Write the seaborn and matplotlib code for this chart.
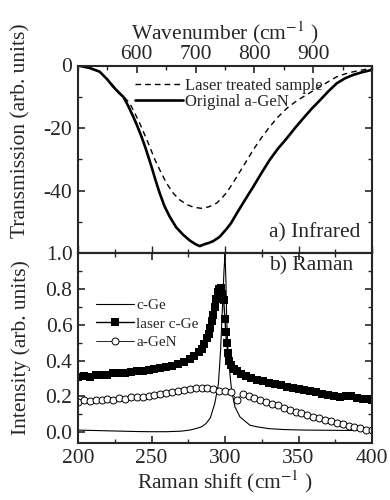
import numpy as np
import pandas as pd
import matplotlib
matplotlib.use("Agg")
import matplotlib.pyplot as plt
import seaborn as sns
from matplotlib.ticker import MultipleLocator, FormatStrFormatter

# --- a) Infrared -----------------------------------------------------------
ir_wn_orig = [500, 520, 537, 550, 560, 570, 577, 585, 594, 600, 608, 615, 625, 632, 639, 647,
              656, 667, 679, 690, 700, 707, 715, 722, 730, 741, 753, 760, 770, 784, 798, 812,
              826, 840, 855, 869, 883, 897, 912, 926, 940, 954, 968, 984, 1000]
ir_orig = [0.0, -0.8, -2.0, -4.5, -6.8, -8.8, -10.0, -12.8, -16.4, -19.0, -22.8, -26.5, -32.4,
           -36.8, -40.9, -45.0, -48.4, -51.8, -54.2, -56.0, -57.2, -57.8, -57.2, -56.8, -56.2,
           -54.8, -52.2, -50.5, -47.3, -43.0, -38.8, -34.4, -30.2, -26.6, -23.3, -20.0, -16.9,
           -13.9, -11.0, -8.2, -5.7, -4.1, -3.0, -2.1, -1.4]

ir_wn_laser = [500, 520, 537, 550, 560, 570, 577, 588, 596, 605, 613, 622, 630, 639, 650, 662,
               673, 685, 697, 710, 723, 736, 745, 753, 761, 770, 784, 798, 812, 826, 840, 855,
               869, 883, 897, 912, 926, 940, 954, 968, 984, 1000]
ir_laser = [0.0, -0.8, -2.0, -4.3, -6.5, -8.6, -9.8, -12.1, -15.0, -18.5, -22.0, -26.0, -29.8,
            -33.4, -37.5, -40.9, -43.0, -44.5, -45.4, -45.7, -45.2, -44.0, -42.3, -40.6, -38.3,
            -35.6, -31.3, -27.0, -23.1, -19.6, -16.5, -13.7, -11.7, -10.0, -8.4, -6.8, -5.1,
            -3.6, -2.7, -2.0, -1.4, -0.9]

# --- b) Raman --------------------------------------------------------------
cge_x = [200, 210, 220, 230, 240, 250, 260, 270, 276, 280, 284, 287, 290, 293, 295.5, 297,
         298.4, 299.3, 300, 300.6, 301.1, 302, 302.9, 304.5, 306.8, 310.2, 317, 322, 330,
         340, 355, 370, 385, 400]
cge_y = [0.012, 0.010, 0.008, 0.006, 0.004, 0.003, 0.003, 0.006, 0.012, 0.020, 0.030, 0.048,
         0.080, 0.160, 0.270, 0.460, 0.730, 0.900, 1.000, 0.850, 0.640, 0.450, 0.360, 0.230,
         0.140, 0.085, 0.039, 0.030, 0.020, 0.015, 0.012, 0.011, 0.010, 0.010]

laser_x = [200, 204, 208, 212, 216, 220, 224, 228, 232, 236, 240, 244, 248, 252, 256, 260,
           264, 268, 272, 276, 279, 282, 284, 286, 288, 289, 290, 291, 292, 293, 294, 295,
           296, 297, 298, 299, 300, 300.5, 301, 302, 303, 304, 306, 308, 311, 314, 318, 322,
           326, 330, 334, 338, 342, 346, 350, 354, 358, 362, 366, 370, 374, 378, 382, 386,
           390, 394, 398, 400]
laser_y = [0.307, 0.312, 0.310, 0.318, 0.322, 0.320, 0.328, 0.332, 0.330, 0.338, 0.344, 0.342,
           0.350, 0.352, 0.358, 0.363, 0.372, 0.380, 0.392, 0.410, 0.425, 0.445, 0.465, 0.490,
           0.525, 0.550, 0.580, 0.620, 0.655, 0.700, 0.745, 0.780, 0.800, 0.805, 0.770, 0.740,
           0.630, 0.560, 0.500, 0.440, 0.400, 0.375, 0.355, 0.340, 0.325, 0.312, 0.302, 0.292,
           0.285, 0.275, 0.268, 0.262, 0.255, 0.248, 0.242, 0.235, 0.228, 0.222, 0.215, 0.208,
           0.202, 0.198, 0.205, 0.200, 0.192, 0.188, 0.185, 0.182]

agen_x = [200, 204, 208, 212, 216, 220, 224, 228, 232, 236, 240, 244, 248, 252, 256, 260,
          264, 268, 272, 276, 280, 284, 288, 292, 296, 300, 304, 308, 312, 316, 320, 324,
          328, 332, 336, 340, 344, 348, 352, 356, 360, 364, 368, 372, 376, 380, 384, 388,
          392, 396, 400]
agen_y = [0.170, 0.178, 0.172, 0.182, 0.178, 0.186, 0.182, 0.190, 0.188, 0.195, 0.198, 0.195,
          0.205, 0.210, 0.212, 0.220, 0.225, 0.230, 0.235, 0.240, 0.245, 0.248, 0.245, 0.240,
          0.232, 0.228, 0.225, 0.180, 0.215, 0.205, 0.190, 0.180, 0.170, 0.160, 0.150, 0.138,
          0.125, 0.115, 0.105, 0.095, 0.087, 0.078, 0.068, 0.060, 0.052, 0.045, 0.037, 0.030,
          0.022, 0.015, 0.010]

FS = 15.5

sns.set_theme(style="ticks")
plt.rcParams['font.family'] = ['Liberation Serif', 'DejaVu Serif']
plt.rcParams['mathtext.fontset'] = 'stix'
plt.rcParams['axes.linewidth'] = 1.5

fig = plt.figure(figsize=(3.9, 5), dpi=100)
ax1 = fig.add_axes([0.2, 0.494, 0.754, 0.375])
ax2 = fig.add_axes([0.2, 0.114, 0.754, 0.38])

# infrared panel
sns.lineplot(x=ir_wn_laser, y=ir_laser, ax=ax1, color='black', lw=1.0,
             linestyle=(0, (4, 3)), label='Laser treated sample')
sns.lineplot(x=ir_wn_orig, y=ir_orig, ax=ax1, color='black', lw=1.9,
             label='Original a-GeN')
ax1.set_xlim(500, 1000)
ax1.set_ylim(-60, 0)
ax1.xaxis.set_minor_locator(MultipleLocator(50))
ax1.yaxis.set_minor_locator(MultipleLocator(10))
ax1.set_xticks([600, 700, 800, 900])
ax1.set_yticks([0, -20, -40, -60])
ax1.set_yticklabels(['0', '-20', '-40', ''])
ax1.tick_params(axis='x', which='both', top=True, bottom=False, labeltop=True,
                labelbottom=False, direction='in')
ax1.tick_params(axis='y', which='both', left=True, right=True, direction='in')
ax1.tick_params(which='major', length=5, width=1.2, labelsize=FS, pad=4)
ax1.tick_params(axis='x', which='major', pad=1)
ax1.tick_params(which='minor', length=3, width=1.0)
ax1.xaxis.set_label_position('top')
ax1.set_xlabel('Wavenumber (cm$^{-1}$ )', fontsize=FS, labelpad=4)
ax1.set_ylabel('Transmission (arb. units)', fontsize=FS)
ax1.yaxis.set_label_coords(-0.16, 0.65)
ax1.text(0.96, 0.11, 'a) Infrared', transform=ax1.transAxes, ha='right', va='center',
         fontsize=FS)
ax1.legend(loc='upper left', bbox_to_anchor=(0.194, 0.935), frameon=False, fontsize=12,
           handlelength=2.9, handletextpad=0.1, labelspacing=0.0, borderpad=0,
           borderaxespad=0)

# raman panel
sns.lineplot(x=cge_x, y=cge_y, ax=ax2, color='black', lw=0.8, label='c-Ge')
sns.lineplot(x=laser_x, y=laser_y, ax=ax2, color='black', lw=1.0, marker='s',
             markersize=5.2, markeredgewidth=0, label='laser c-Ge')
sns.lineplot(x=agen_x, y=agen_y, ax=ax2, color='black', lw=0.6, marker='o',
             markersize=5, markerfacecolor='white', markeredgecolor='black',
             markeredgewidth=0.7, label='a-GeN')
ax2.set_xlim(200, 400)
ax2.set_ylim(-0.06, 1.0)
ax2.xaxis.set_major_locator(MultipleLocator(50))
ax2.xaxis.set_minor_locator(MultipleLocator(25))
ax2.yaxis.set_major_locator(MultipleLocator(0.2))
ax2.yaxis.set_minor_locator(MultipleLocator(0.1))
ax2.yaxis.set_major_formatter(FormatStrFormatter('%.1f'))
ax2.tick_params(axis='both', which='both', top=True, right=True, direction='in')
ax2.tick_params(which='major', length=5, width=1.2, labelsize=FS, pad=4)
ax2.tick_params(which='minor', length=3, width=1.0)
sec = ax2.secondary_xaxis('top')
sec.xaxis.set_major_locator(MultipleLocator(50))
sec.xaxis.set_minor_locator(MultipleLocator(25))
sec.tick_params(which='both', direction='out', labeltop=False, width=1.0)
sec.tick_params(which='major', length=5)
sec.tick_params(which='minor', length=3)
ax2.set_xlabel('Raman shift (cm$^{-1}$ )', fontsize=FS, labelpad=1)
ax2.set_ylabel('Intensity (arb. units)', fontsize=FS)
ax2.yaxis.set_label_coords(-0.16, 0.5)
ax2.text(0.935, 0.93, 'b) Raman', transform=ax2.transAxes, ha='right', va='center',
         fontsize=FS)
ax2.legend(loc='upper left', bbox_to_anchor=(0.061, 0.76), frameon=False, fontsize=11,
           handlelength=2.5, handletextpad=0.15, labelspacing=0.3, borderpad=0,
           borderaxespad=0)

fig.savefig('out.png', dpi=100)
